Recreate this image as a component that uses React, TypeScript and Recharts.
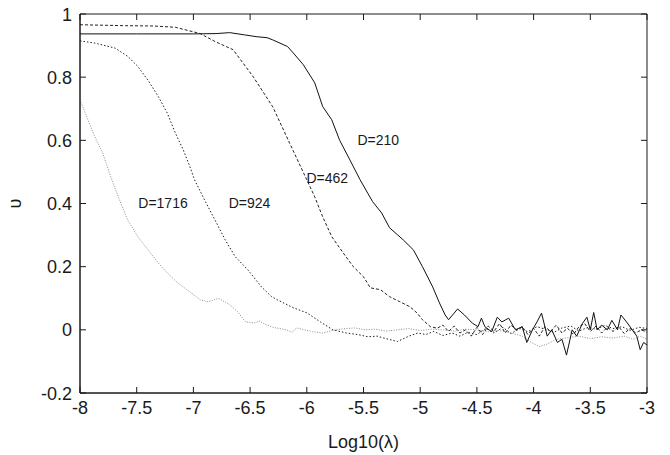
import { LineChart, Line, XAxis, YAxis, ReferenceDot, ReferenceArea } from 'recharts'

// log10(lambda) -> upsilon, one curve per D
const D210_X = [-8, -7.5, -7, -6.8, -6.68, -6.55, -6.44, -6.35, -6.3, -6.17, -6.12, -6.03, -5.93, -5.86, -5.78, -5.71, -5.62, -5.53, -5.42, -5.34, -5.27, -5.15, -5.06, -4.98, -4.89, -4.83, -4.78, -4.75, -4.67, -4.61, -4.54, -4.49, -4.46, -4.43, -4.37, -4.32, -4.28, -4.22, -4.16, -4.1, -4.06, -4.01, -3.97, -3.93, -3.88, -3.84, -3.79, -3.75, -3.71, -3.66, -3.62, -3.57, -3.53, -3.5, -3.47, -3.44, -3.4, -3.35, -3.31, -3.26, -3.23, -3.18, -3.13, -3.09, -3.06, -3.03, -3]
const D210_Y = [0.937, 0.937, 0.937, 0.938, 0.941, 0.934, 0.928, 0.925, 0.918, 0.897, 0.877, 0.839, 0.782, 0.707, 0.665, 0.6, 0.538, 0.475, 0.406, 0.37, 0.323, 0.285, 0.253, 0.2, 0.136, 0.085, 0.047, 0.032, 0.066, 0.047, 0.021, 0.01, 0.037, 0.01, -0.006, 0.04, 0.025, 0.037, 0, 0.01, -0.04, 0, 0.025, 0.053, -0.02, 0, -0.04, -0.03, -0.08, 0, -0.02, 0.02, 0.04, 0, 0.055, 0, 0.015, 0, 0.03, 0, 0.047, 0.025, 0, -0.02, -0.063, -0.04, -0.048]

const D462_X = [-8, -7.6, -7.35, -7.16, -7.05, -6.94, -6.81, -6.65, -6.47, -6.3, -6.15, -6.0, -5.93, -5.86, -5.78, -5.68, -5.59, -5.5, -5.44, -5.35, -5.27, -5.18, -5.09, -5.03, -4.98, -4.91, -4.85, -4.8, -4.75, -4.7, -4.65, -4.6, -4.55, -4.5, -4.45, -4.4, -4.35, -4.3, -4.25, -4.2, -4.15, -4.1, -4.05, -4, -3.95, -3.9, -3.85, -3.8, -3.75, -3.7, -3.65, -3.6, -3.55, -3.5, -3.45, -3.4, -3.35, -3.3, -3.25, -3.2, -3.15, -3.1, -3.05, -3]
const D462_Y = [0.966, 0.963, 0.962, 0.958, 0.948, 0.938, 0.913, 0.887, 0.8, 0.706, 0.59, 0.475, 0.421, 0.358, 0.295, 0.244, 0.2, 0.168, 0.133, 0.127, 0.105, 0.089, 0.073, 0.054, 0.032, 0.01, 0.005, 0.015, -0.005, 0.012, -0.01, 0, -0.02, 0.008, -0.015, 0.012, -0.005, 0.02, -0.01, 0.015, 0, 0.01, -0.015, 0.005, -0.02, 0.01, -0.005, 0.015, -0.01, 0.005, -0.015, 0.01, 0.02, -0.005, 0.012, -0.01, 0.008, -0.005, 0.01, -0.012, 0.005, -0.01, 0, -0.008]

const D924_X = [-8, -7.87, -7.69, -7.58, -7.49, -7.4, -7.31, -7.23, -7.16, -7.09, -7.03, -6.99, -6.9, -6.81, -6.72, -6.63, -6.52, -6.4, -6.31, -6.26, -6.12, -6.0, -5.88, -5.77, -5.65, -5.55, -5.46, -5.38, -5.3, -5.2, -5.1, -5.02, -4.95, -4.88, -4.8, -4.72, -4.65, -4.58, -4.5, -4.42, -4.35, -4.27, -4.2, -4.12, -4.05, -3.97, -3.9, -3.82, -3.75, -3.67, -3.6, -3.52, -3.45, -3.37, -3.3, -3.22, -3.15, -3.07, -3]
const D924_Y = [0.915, 0.908, 0.892, 0.866, 0.834, 0.79, 0.739, 0.686, 0.624, 0.57, 0.516, 0.475, 0.41, 0.348, 0.285, 0.231, 0.19, 0.136, 0.105, 0.095, 0.07, 0.054, 0.025, 0, -0.01, -0.015, -0.022, -0.02, -0.028, -0.037, -0.02, -0.01, -0.015, -0.005, -0.018, -0.01, -0.02, -0.008, -0.015, 0.005, -0.01, 0.008, -0.012, 0.004, -0.006, 0.01, 0.002, -0.008, 0.006, 0.012, -0.004, 0.008, 0.002, 0.014, 0.004, 0.01, -0.002, 0.008, 0.004]

const D1716_X = [-8, -7.93, -7.87, -7.8, -7.72, -7.65, -7.58, -7.49, -7.4, -7.31, -7.23, -7.14, -7.03, -6.94, -6.87, -6.83, -6.78, -6.68, -6.61, -6.54, -6.46, -6.42, -6.37, -6.3, -6.18, -6.13, -6.09, -5.95, -5.86, -5.75, -5.65, -5.58, -5.48, -5.4, -5.3, -5.2, -5.1, -5, -4.9, -4.8, -4.7, -4.6, -4.5, -4.4, -4.3, -4.2, -4.1, -4.02, -3.95, -3.88, -3.8, -3.7, -3.6, -3.5, -3.4, -3.3, -3.2, -3.12, -3.06, -3]
const D1716_Y = [0.728, 0.665, 0.612, 0.56, 0.475, 0.41, 0.348, 0.295, 0.253, 0.212, 0.18, 0.149, 0.12, 0.095, 0.089, 0.093, 0.1, 0.08, 0.057, 0.025, 0.022, 0.028, 0.018, 0.008, 0, -0.008, 0.006, -0.006, -0.01, 0, 0.004, 0.006, 0, 0.002, -0.004, 0, 0.004, -0.002, 0.002, 0, -0.004, 0.002, 0, -0.006, -0.002, -0.01, -0.02, -0.04, -0.053, -0.045, -0.03, -0.025, -0.02, -0.028, -0.022, -0.026, -0.02, -0.03, -0.02, -0.03]

const X_TICKS = [-8, -7.5, -7, -6.5, -6, -5.5, -5, -4.5, -4, -3.5, -3]
const Y_TICKS = [-0.2, 0, 0.2, 0.4, 0.6, 0.8, 1]

const SERIES_LABELS = ['D=210', 'D=462', 'D=924', 'D=1716']
const LABEL_X = [-5.37, -5.82, -6.505, -7.268]
const LABEL_Y = [0.6, 0.481, 0.402, 0.402]

const pairs = (xs: number[], ys: number[]) => xs.map((x, i) => ({ x, y: ys[i] }))

const FONT = '"Liberation Sans", Arial, Helvetica, sans-serif'
const INK = '#1a1a1a'
const TICK = 6

// chart box
const W = 670
const H = 455
const MARGIN = { top: 14, right: 23, bottom: 0, left: 0 }
const Y_AXIS_W = 80
const X_AXIS_H = 62
const PLOT_W = W - MARGIN.left - MARGIN.right - Y_AXIS_W
const PLOT_H = H - MARGIN.top - MARGIN.bottom - X_AXIS_H

// gnuplot style: ticks point inwards and are mirrored on the opposite side
const BottomTick = (props: any) => {
	const { x, y, payload } = props
	return (
		<g>
			<line x1={x} x2={x} y1={y} y2={y - TICK} stroke={INK} />
			<line x1={x} x2={x} y1={y - PLOT_H} y2={y - PLOT_H + TICK} stroke={INK} />
			<text x={x} y={y + 21} textAnchor="middle" fontSize={18} fill={INK} fontFamily={FONT}>
				{String(payload.value)}
			</text>
		</g>
	)
}

const LeftTick = (props: any) => {
	const { x, y, payload } = props
	return (
		<g>
			<line x1={x} x2={x + TICK} y1={y} y2={y} stroke={INK} />
			<line x1={x + PLOT_W} x2={x + PLOT_W - TICK} y1={y} y2={y} stroke={INK} />
			<text x={x - 8} y={y + 6.5} textAnchor="end" fontSize={18} fill={INK} fontFamily={FONT}>
				{String(payload.value)}
			</text>
		</g>
	)
}

const YTitle = (props: any) => {
	const vb = props.viewBox
	const cy = vb.y + vb.height / 2
	return (
		<text
			transform={`translate(15, ${cy}) rotate(-90)`}
			textAnchor="middle"
			dominantBaseline="central"
			fontSize={18}
			fill={INK}
			fontFamily={FONT}
		>
			υ
		</text>
	)
}

export default function App() {
	return (
		<div style={{ width: W, height: H, background: '#fff' }}>
			<style>{'body{margin:0}'}</style>
			<LineChart width={W} height={H} margin={MARGIN}>
				<XAxis
					dataKey="x"
					type="number"
					domain={[-8, -3]}
					ticks={X_TICKS}
					allowDataOverflow
					height={X_AXIS_H}
					tickSize={0}
					tickMargin={0}
					tickLine={false}
					axisLine={{ stroke: INK }}
					tick={<BottomTick />}
					interval={0}
					label={{ value: 'Log10(λ)', position: 'insideBottom', offset: 7, fontSize: 18, fill: INK, fontFamily: FONT }}
				/>
				<YAxis
					type="number"
					domain={[-0.2, 1]}
					ticks={Y_TICKS}
					allowDataOverflow
					width={Y_AXIS_W}
					tickSize={0}
					tickMargin={0}
					tickLine={false}
					axisLine={{ stroke: INK }}
					tick={<LeftTick />}
					interval={0}
					label={{ content: <YTitle /> }}
				/>
				<ReferenceArea x1={-8} x2={-3} y1={-0.2} y2={1} fill="none" stroke={INK} strokeWidth={1} />
				<Line data={pairs(D1716_X, D1716_Y)} dataKey="y" type="linear" stroke="#8a8a8a" strokeWidth={1} strokeDasharray="1 1.5" dot={false} isAnimationActive={false} />
				<Line data={pairs(D924_X, D924_Y)} dataKey="y" type="linear" stroke="#222" strokeWidth={1} strokeDasharray="1.5 2" dot={false} isAnimationActive={false} />
				<Line data={pairs(D462_X, D462_Y)} dataKey="y" type="linear" stroke="#222" strokeWidth={1} strokeDasharray="3 2" dot={false} isAnimationActive={false} />
				<Line data={pairs(D210_X, D210_Y)} dataKey="y" type="linear" stroke="#111" strokeWidth={1} dot={false} isAnimationActive={false} />
				{SERIES_LABELS.map((s, i) => (
					<ReferenceDot
						key={s}
						x={LABEL_X[i]}
						y={LABEL_Y[i]}
						r={0}
						stroke="none"
						fill="none"
						label={{ value: s, position: 'center', fontSize: 14, fill: INK, fontFamily: FONT }}
					/>
				))}
			</LineChart>
		</div>
	)
}
